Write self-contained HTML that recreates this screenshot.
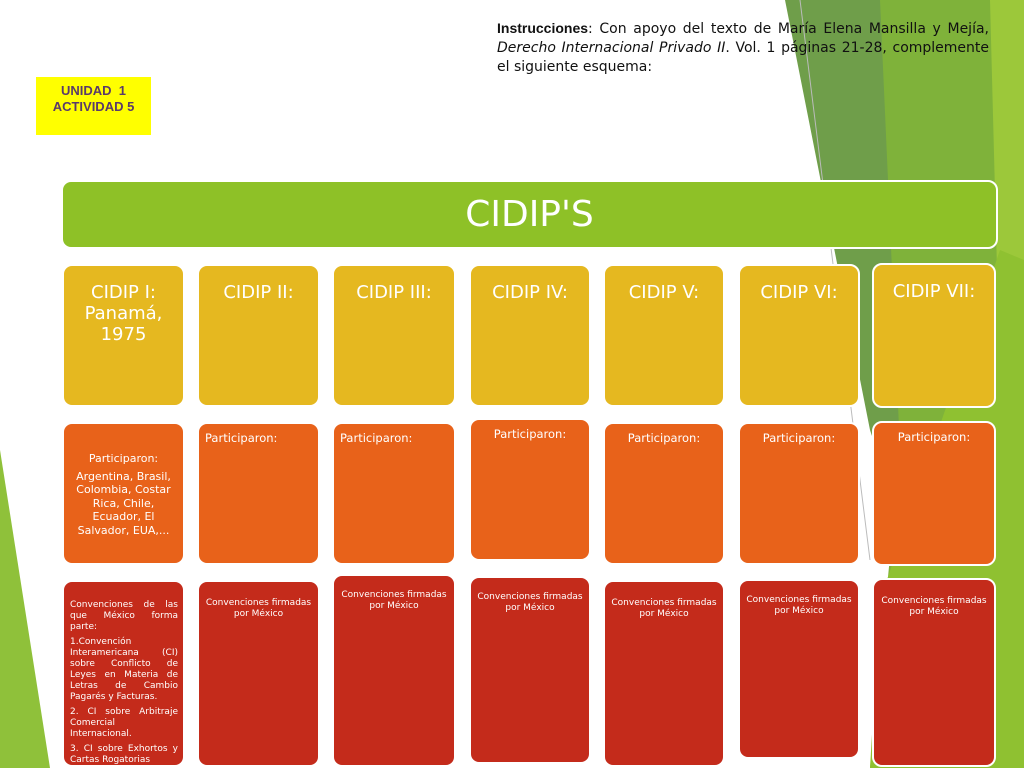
<!DOCTYPE html>
<html><head><meta charset="utf-8"><style>
body{margin:0;width:1024px;height:768px;position:relative;overflow:hidden;background:#fff;font-family:"DejaVu Sans","Liberation Sans",sans-serif}
.b{position:absolute;box-sizing:border-box;border:2px solid #fff;border-radius:10px;color:#fff;text-align:center}
.y{background:#e5b820}.o{background:#e8621a}.r{background:#c42b1b}
.t{font-size:18px;line-height:21px;padding-top:16px}
.p{font-size:11.5px;padding-top:7px}
.c{font-size:9px;line-height:10.5px;padding:14px 6px 0}
</style></head><body>
<svg width="1024" height="768" style="position:absolute;left:0;top:0">
<polygon points="785,0 1024,0 1024,768 960,768 900,520 870,430" fill="#6f9e4a"/>
<polygon points="880,0 1000,0 1024,300 1024,768 870,768 900,450" fill="#7fb23a"/>
<polygon points="990,0 1024,0 1024,768 1010,768" fill="#9cc83a"/>
<polygon points="1000,250 1024,260 1024,768 870,768 880,600" fill="#8fc131"/>
<line x1="800" y1="0" x2="870" y2="560" stroke="#bbb" stroke-width="1"/>
<polygon points="0,450 50,768 0,768" fill="#8fc13a"/>
</svg>
<div style="position:absolute;left:497px;top:19px;width:492px;font-size:14px;line-height:19px;color:#111;text-align:justify"><b style="font-family:'Liberation Sans',sans-serif">Instrucciones</b>: Con apoyo del texto de María Elena Mansilla y Mejía, <i>Derecho Internacional Privado II</i>. Vol. 1 páginas 21-28, complemente el siguiente esquema:</div>
<div style="position:absolute;left:36px;top:77px;width:115px;height:58px;background:#ffff00;color:#5a3a6a;font:bold 13px/16px 'Liberation Sans',sans-serif;text-align:center;padding-top:6px;box-sizing:border-box">UNIDAD&nbsp; 1<br>ACTIVIDAD 5</div>
<div class="b" style="left:61px;top:180px;width:937px;height:69px;background:#8ec127;font-size:36px;line-height:65px">CIDIP'S</div>

<div class="b y t" style="left:62px;top:264px;width:123px;height:143px">CIDIP I:<br>Panamá,<br>1975</div>
<div class="b y t" style="left:197px;top:264px;width:123px;height:143px">CIDIP II:</div>
<div class="b y t" style="left:332px;top:264px;width:124px;height:143px">CIDIP III:</div>
<div class="b y t" style="left:469px;top:264px;width:122px;height:143px">CIDIP IV:</div>
<div class="b y t" style="left:603px;top:264px;width:122px;height:143px">CIDIP V:</div>
<div class="b y t" style="left:738px;top:264px;width:122px;height:143px">CIDIP VI:</div>
<div class="b y t" style="left:872px;top:263px;width:124px;height:145px">CIDIP VII:</div>

<div class="b o" style="left:62px;top:422px;width:123px;height:143px;font-size:11px;line-height:13.5px;padding:28px 8px 0">Participaron:<br><span style="display:block;margin-top:4px">Argentina, Brasil, Colombia, Costar Rica, Chile, Ecuador, El Salvador, EUA,...</span></div>
<div class="b o p" style="left:197px;top:422px;width:123px;height:143px;text-align:left;padding-left:6px">Participaron:</div>
<div class="b o p" style="left:332px;top:422px;width:124px;height:143px;text-align:left;padding-left:6px">Participaron:</div>
<div class="b o p" style="left:469px;top:418px;width:122px;height:143px">Participaron:</div>
<div class="b o p" style="left:603px;top:422px;width:122px;height:143px">Participaron:</div>
<div class="b o p" style="left:738px;top:422px;width:122px;height:143px">Participaron:</div>
<div class="b o p" style="left:872px;top:421px;width:124px;height:145px">Participaron:</div>

<div class="b r" style="left:62px;top:580px;width:123px;height:187px;font-size:9px;line-height:11px;text-align:justify;padding:18px 5px 0 6px">Convenciones de las que México forma parte:<div style="margin-top:4px">1.Convención Interamericana (CI) sobre Conflicto de Leyes en Materia de Letras de Cambio Pagarés y Facturas.</div><div style="margin-top:4px">2. CI sobre Arbitraje Comercial Internacional.</div><div style="margin-top:4px">3. CI sobre Exhortos y Cartas Rogatorias</div></div>
<div class="b r c" style="left:197px;top:580px;width:123px;height:187px;padding-top:16px">Convenciones firmadas por México</div>
<div class="b r c" style="left:332px;top:574px;width:124px;height:193px">Convenciones firmadas por México</div>
<div class="b r c" style="left:469px;top:576px;width:122px;height:188px">Convenciones firmadas por México</div>
<div class="b r c" style="left:603px;top:580px;width:122px;height:187px;padding-top:16px">Convenciones firmadas por México</div>
<div class="b r c" style="left:738px;top:579px;width:122px;height:180px">Convenciones firmadas por México</div>
<div class="b r c" style="left:872px;top:578px;width:124px;height:189px;padding-top:16px">Convenciones firmadas por México</div>
</body></html>
